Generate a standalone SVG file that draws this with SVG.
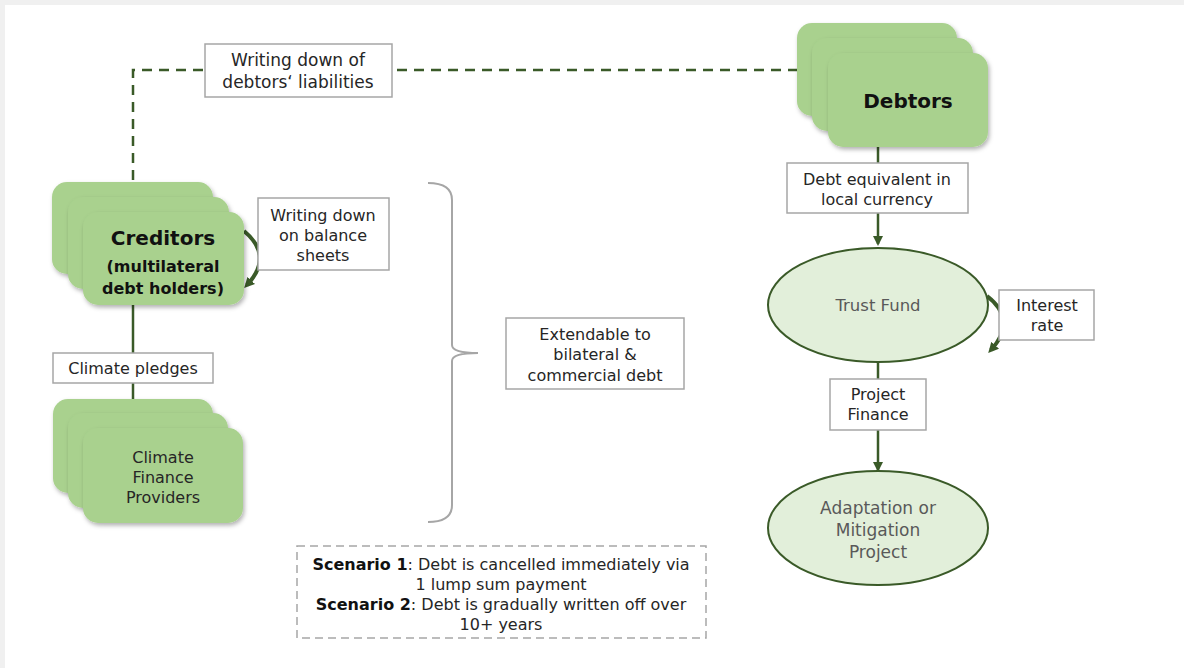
<svg xmlns="http://www.w3.org/2000/svg" width="1184" height="668" viewBox="0 0 1184 668">
<defs>
<filter id="sh" x="-20%" y="-20%" width="140%" height="150%">
<feDropShadow dx="1.5" dy="2.5" stdDeviation="2" flood-color="#000" flood-opacity="0.3"/>
</filter>
<marker id="arr" viewBox="0 0 10 10" refX="8" refY="5" markerWidth="4" markerHeight="4" orient="auto" markerUnits="strokeWidth">
<path d="M0,0 L10,5 L0,10 z" fill="#3a5a28"/>
</marker>
<marker id="arrc" viewBox="0 0 10 10" refX="6" refY="5" markerWidth="2.6" markerHeight="2.6" orient="auto" markerUnits="strokeWidth">
<path d="M0,0 L10,5 L0,10 z" fill="#3a5a28"/>
</marker>
</defs>
<style>
.stk{fill:#a9d18e;filter:url(#sh)}
.lbl{fill:#fff;stroke:#a6a6a6;stroke-width:1.5}
.ln{stroke:#3a5a28;stroke-width:2.5;fill:none}
.t{font-family:"DejaVu Sans","Liberation Sans",sans-serif;font-size:16px;fill:#262626;text-anchor:middle}
.g{fill:#595959;font-size:16.5px}
.b{font-weight:bold;fill:#111}
.ell{fill:#e2efda;stroke:#3a5a28;stroke-width:2}
</style>
<rect x="0" y="0" width="1184" height="668" fill="#f0f0f0"/>
<rect x="5" y="5" width="1179" height="663" fill="#fff"/>

<g id="connectors">
<path class="ln" d="M133,180 V70 H800" stroke-dasharray="10 7"/>
<line class="ln" x1="133" y1="305" x2="133" y2="400"/>
<line class="ln" x1="878" y1="147" x2="878" y2="244" marker-end="url(#arr)"/>
<line class="ln" x1="878" y1="362" x2="878" y2="470" marker-end="url(#arr)"/>
<path d="M244,231 Q274,256 247,285" stroke="#3a5a28" stroke-width="4" fill="none" marker-end="url(#arrc)"/>
<path d="M987,296 Q1018,320 991,350" stroke="#3a5a28" stroke-width="4" fill="none" marker-end="url(#arrc)"/>
<path d="M428,183 Q452,183 452,200 V345 Q452,353 478,353 Q452,353 452,361 V505 Q452,522 428,522" stroke="#a6a6a6" stroke-width="2" fill="none"/>
</g>

<g id="creditors">
<rect class="stk" x="52" y="182" width="161" height="92" rx="15"/>
<rect class="stk" x="68" y="197" width="161" height="92" rx="15"/>
<rect class="stk" x="83" y="212" width="161" height="93" rx="15"/>
<text class="t b" x="163" y="245" style="font-size:20px">Creditors</text>
<text class="t b" x="163" y="272" style="font-size:16px">(multilateral</text>
<text class="t b" x="163" y="294" style="font-size:16px">debt holders)</text>
</g>

<g id="writing-balance">
<rect class="lbl" x="258" y="198" width="131" height="72"/>
<text class="t" x="323" y="221">Writing down</text>
<text class="t" x="323" y="241">on balance</text>
<text class="t" x="323" y="261">sheets</text>
</g>

<g id="writing-liabilities">
<rect class="lbl" x="205" y="44" width="187" height="53"/>
<text class="t" x="298" y="66" style="font-size:17px">Writing down of</text>
<text class="t" x="298" y="88" style="font-size:17px">debtors‘ liabilities</text>
</g>

<g id="climate-pledges">
<rect class="lbl" x="53" y="353" width="160" height="30"/>
<text class="t" x="133" y="374">Climate pledges</text>
</g>

<g id="climate-providers">
<rect class="stk" x="53" y="399" width="160" height="94" rx="15"/>
<rect class="stk" x="68" y="413" width="160" height="95" rx="15"/>
<rect class="stk" x="83" y="428" width="160" height="95" rx="15"/>
<text class="t" x="163" y="463">Climate</text>
<text class="t" x="163" y="483">Finance</text>
<text class="t" x="163" y="503">Providers</text>
</g>

<g id="extendable">
<rect class="lbl" x="506" y="318" width="178" height="71"/>
<text class="t" x="595" y="340">Extendable to</text>
<text class="t" x="595" y="360">bilateral &amp;</text>
<text class="t" x="595" y="381">commercial debt</text>
</g>

<g id="scenarios">
<rect x="297" y="546" width="409" height="92" fill="#fff" stroke="#a6a6a6" stroke-width="1.5" stroke-dasharray="8 5"/>
<text class="t" x="501" y="570"><tspan font-weight="bold" fill="#111">Scenario 1</tspan>: Debt is cancelled immediately via</text>
<text class="t" x="501" y="590">1 lump sum payment</text>
<text class="t" x="501" y="610"><tspan font-weight="bold" fill="#111">Scenario 2</tspan>: Debt is gradually written off over</text>
<text class="t" x="501" y="630">10+ years</text>
</g>

<g id="debtors">
<rect class="stk" x="797" y="23" width="160" height="93" rx="15"/>
<rect class="stk" x="812" y="38" width="161" height="93" rx="15"/>
<rect class="stk" x="828" y="53" width="160" height="94" rx="15"/>
<text class="t b" x="908" y="108" style="font-size:20px">Debtors</text>
</g>

<g id="debt-equivalent">
<rect class="lbl" x="787" y="163" width="181" height="50"/>
<text class="t" x="877" y="185">Debt equivalent in</text>
<text class="t" x="877" y="205">local currency</text>
</g>

<g id="trust-fund">
<ellipse class="ell" cx="878" cy="305" rx="110" ry="57"/>
<text class="t g" x="878" y="311">Trust Fund</text>
</g>

<g id="interest-rate">
<rect class="lbl" x="999" y="290" width="95" height="50"/>
<text class="t" x="1047" y="311">Interest</text>
<text class="t" x="1047" y="331">rate</text>
</g>

<g id="project-finance">
<rect class="lbl" x="830" y="379" width="96" height="51"/>
<text class="t" x="878" y="400">Project</text>
<text class="t" x="878" y="420">Finance</text>
</g>

<g id="adaptation">
<ellipse class="ell" cx="878" cy="528" rx="110" ry="57"/>
<text class="t g" x="878" y="514" style="font-size:17px">Adaptation or</text>
<text class="t g" x="878" y="536" style="font-size:17px">Mitigation</text>
<text class="t g" x="878" y="558" style="font-size:17px">Project</text>
</g>
</svg>
